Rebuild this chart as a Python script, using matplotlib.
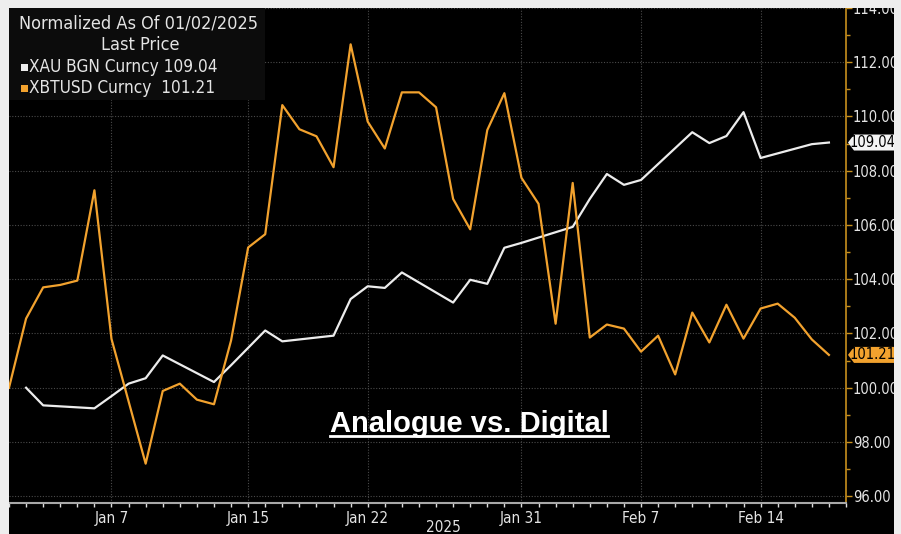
import matplotlib
matplotlib.use('Agg')
import matplotlib.pyplot as plt
import matplotlib.dates as mdates
from matplotlib.patches import Rectangle, Polygon
from matplotlib.lines import Line2D
from matplotlib.ticker import MultipleLocator, FormatStrFormatter
import pandas as pd

# Gold (XAU) - weekday closes, normalized to 01/02/2025
gold_dates = pd.bdate_range('2025-01-02', '2025-02-18')
gold_values = [100.00, 99.35, 99.24, 99.69, 100.15, 100.35, 101.19,
               100.21, 100.83, 101.47, 102.11, 101.71,
               101.92, 103.27, 103.74, 103.68, 104.25,
               103.14, 103.98, 103.83, 105.16, 105.34,
               105.93, 106.96, 107.88, 107.48, 107.66,
               109.42, 109.02, 109.28, 110.16, 108.47,
               108.98, 109.04]

# Bitcoin (XBTUSD) - daily, every calendar day
btc_dates = pd.date_range('2025-01-01', '2025-02-18', freq='D')
btc_values = [100.00, 102.55, 103.70, 103.79, 103.95, 107.28, 101.80,
              99.50, 97.20, 99.88, 100.15, 99.56, 99.39, 101.74,
              105.17, 105.66, 110.42, 109.53, 109.27, 108.13, 112.66,
              109.81, 108.82, 110.89, 110.89, 110.34, 106.96, 105.84,
              109.50, 110.86, 107.74, 106.78, 102.36, 107.55, 101.85,
              102.33, 102.18, 101.33, 101.92, 100.49, 102.77, 101.67,
              103.06, 101.81, 102.92, 103.10, 102.58, 101.78, 101.21]

tick_dates = ['2025-01-07', '2025-01-15', '2025-01-22', '2025-01-31',
              '2025-02-07', '2025-02-14']
tick_labels = ['Jan 7', 'Jan 15', 'Jan 22', 'Jan 31', 'Feb 7', 'Feb 14']

GOLD_COLOR = '#ececec'
BTC_COLOR = '#f2a22e'
TEXT_COLOR = '#e4e4e4'
BORDER = '#eeeeee'
NARROW = dict(family=['Liberation Sans Narrow', 'DejaVu Sans'], stretch='condensed')

W, H = 901, 534
Y_LO, Y_HI = 95.75, 114.0


def fx(px):
    return px / W


def fy(py):
    return 1 - py / H


fig = plt.figure(figsize=(W / 100, H / 100), dpi=100, facecolor='black')

ax = fig.add_axes([fx(9), fy(503), fx(846) - fx(9), fy(8) - fy(503)])
ax.set_facecolor('black')

ax.plot(gold_dates, gold_values, color=GOLD_COLOR, linewidth=1.6, zorder=3)
ax.plot(btc_dates, btc_values, color=BTC_COLOR, linewidth=1.6, zorder=3)

ax.set_xlim(pd.Timestamp('2025-01-01'), pd.Timestamp('2025-02-19'))
ax.set_ylim(Y_LO, Y_HI)

# axes styling
for side in ['top', 'left']:
    ax.spines[side].set_visible(False)
ax.spines['right'].set_color('#c8901e')
ax.spines['right'].set_linewidth(1.2)
ax.spines['bottom'].set_color('#a8a8a8')
ax.spines['bottom'].set_linewidth(1.5)

ax.yaxis.tick_right()
ax.yaxis.set_major_locator(MultipleLocator(2))
ax.yaxis.set_minor_locator(MultipleLocator(1))
ax.yaxis.set_major_formatter(FormatStrFormatter('%.2f'))
ax.tick_params(axis='y', which='both', colors='#c8901e', length=4, width=1, direction='out',
               labelcolor=TEXT_COLOR, labelsize=10.5, pad=1)
ax.tick_params(axis='y', which='minor', length=3)

ax.set_xticks(pd.to_datetime(tick_dates))
ax.set_xticklabels(tick_labels)
ax.xaxis.set_minor_locator(mdates.DayLocator())
ax.tick_params(axis='x', which='both', colors='#dddddd', length=3, width=1, direction='out',
               labelcolor=TEXT_COLOR, labelsize=11, pad=3)

for lab in ax.get_xticklabels() + ax.get_yticklabels():
    lab.set_family(NARROW['family'])
    lab.set_stretch(NARROW['stretch'])

ax.grid(True, which='major', color='#4a4a4a', linestyle=(0, (1, 1.5)), linewidth=0.8)
ax.set_axisbelow(True)

# year label under the date axis (partly cut off at the bottom like the source)
fig.text(fx(443), fy(520), '2025', ha='center', va='top', color=TEXT_COLOR,
         fontsize=11, **NARROW)

# legend panel
fig.patches.append(Rectangle((fx(9), fy(100)), fx(265) - fx(9), fy(8) - fy(100),
                             transform=fig.transFigure, facecolor='#0c0c0c',
                             edgecolor='none', zorder=5))
fig.text(fx(19), fy(24), 'Normalized As Of 01/02/2025', ha='left', va='center',
         color=TEXT_COLOR, fontsize=13, zorder=6, **NARROW)
fig.text(fx(140), fy(45), 'Last Price', ha='center', va='center',
         color=TEXT_COLOR, fontsize=13, zorder=6, **NARROW)
legend_rows = [('XAU BGN Curncy 109.04', GOLD_COLOR, 67),
               ('XBTUSD Curncy  101.21', BTC_COLOR, 88)]
for label, col, ypx in legend_rows:
    fig.patches.append(Rectangle((fx(21), fy(ypx + 4)), fx(7), fy(0) - fy(7),
                                 transform=fig.transFigure, facecolor=col,
                                 edgecolor='none', zorder=6))
    fig.text(fx(29), fy(ypx), label, ha='left', va='center', color=TEXT_COLOR,
             fontsize=12.3, zorder=6, **NARROW)

# last value tags on the right axis
ppx = 1 / (846 - 9)                        # axes fraction per pixel
pdy = (Y_HI - Y_LO) / 495                  # data units per pixel
ytrans = ax.get_yaxis_transform()
for val, face in [(gold_values[-1], '#f4f4f4'), (btc_values[-1], BTC_COLOR)]:
    x0 = 1 + 2 * ppx
    xb = 1 + 8 * ppx
    x1 = 1 + 50 * ppx
    hh = 8 * pdy
    poly = Polygon([(x0, val), (xb, val + hh), (x1, val + hh), (x1, val - hh), (xb, val - hh)],
                   closed=True, transform=ytrans, facecolor=face, edgecolor='none',
                   clip_on=False, zorder=7)
    ax.add_patch(poly)
    ax.text(1 + 27 * ppx, val, f'{val:.2f}', transform=ytrans, ha='center', va='center',
            color='black', fontsize=10.5, clip_on=False, zorder=8, **NARROW)

# title with underline
title = fig.text(fx(469), fy(432), 'Analogue vs. Digital', ha='center', va='baseline',
                 color='white', fontsize=21, fontweight='bold', family='Liberation Sans',
                 zorder=9)

# light grey frame around the black panel (drawn last, cuts the top label)
for rect in [(0, 0, fx(9), 1), (0, fy(8), 1, 1 - fy(8)), (fx(894), 0, 1 - fx(894), 1)]:
    fig.patches.append(Rectangle(rect[:2], rect[2], rect[3], transform=fig.transFigure,
                                 facecolor=BORDER, edgecolor='none', zorder=20))

fig.canvas.draw()
bb = title.get_window_extent(fig.canvas.get_renderer())
fig.add_artist(Line2D([bb.x0 / W, bb.x1 / W], [fy(435.5), fy(435.5)], color='white',
                      linewidth=2, transform=fig.transFigure, zorder=9))

fig.savefig('out.png', dpi=100, facecolor=fig.get_facecolor())
